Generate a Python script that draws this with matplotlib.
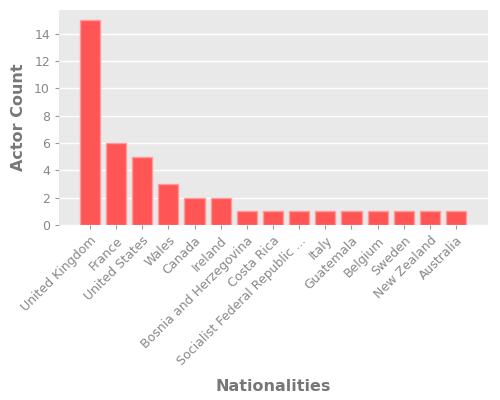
import matplotlib
matplotlib.use("Agg")
import matplotlib.pyplot as plt

# data
nationalities = ["United Kingdom", "France", "United States", "Wales", "Canada",
                 "Ireland", "Bosnia and Herzegovina", "Costa Rica",
                 "Socialist Federal Republic ...", "Italy", "Guatemala",
                 "Belgium", "Sweden", "New Zealand", "Australia"]
actor_count = [15, 6, 5, 3, 2, 2, 1, 1, 1, 1, 1, 1, 1, 1, 1]

fig = plt.figure(figsize=(5, 4), dpi=100)
ax = fig.add_axes([0.118, 0.4375, 0.858, 0.5375])
ax.set_facecolor("#E9E9E9")
ax.grid(True, axis="y", color="white", lw=1)
ax.set_axisbelow(True)
for s in ax.spines.values():
    s.set_visible(False)

x = range(len(nationalities))
ax.bar(x, actor_count, width=0.77, color="#FF5555", edgecolor="#FF9A9A", lw=1)

ax.set_xlim(-1.18, len(nationalities) - 1 + 1.22)
ax.set_ylim(0, 15.75)
ax.set_yticks([0, 2, 4, 6, 8, 10, 12, 14])
ax.set_xticks(list(x))
ax.set_xticklabels(nationalities, rotation=45, ha="right", rotation_mode="anchor")
ax.tick_params(colors="#999999", labelcolor="#888888", labelsize=9, length=3)

ax.set_ylabel("Actor Count", color="#777777", fontsize=11.5, fontweight="bold")
ax.set_xlabel("Nationalities", color="#777777", fontsize=11.5, fontweight="bold")
ax.xaxis.set_label_coords(0.499, -0.716)
ax.yaxis.set_label_coords(-0.077, 0.5)

fig.savefig("out.png", dpi=100)
